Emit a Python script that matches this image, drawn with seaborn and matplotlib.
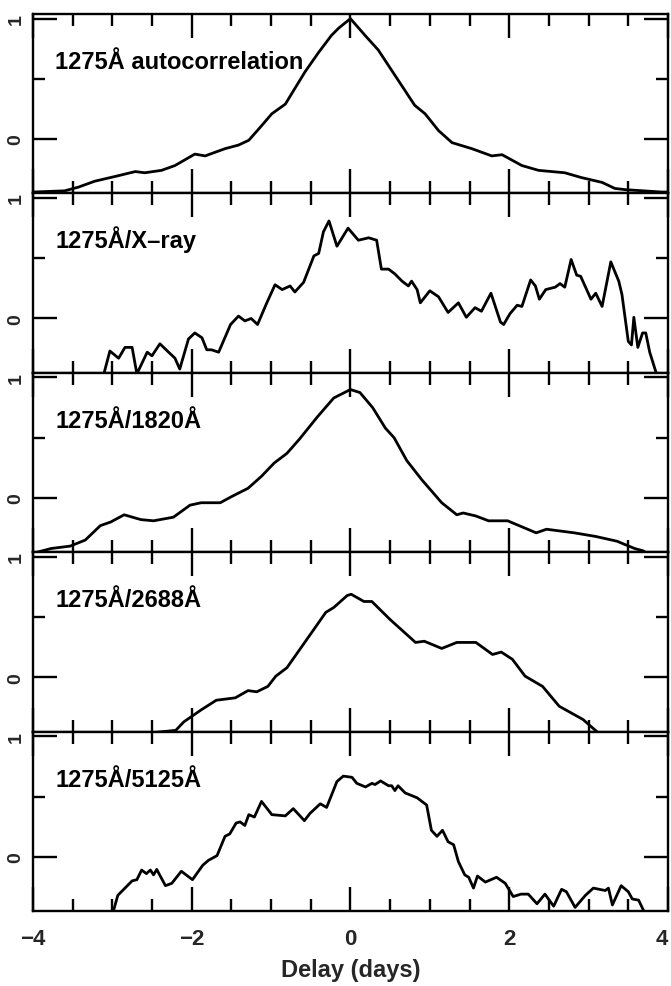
import matplotlib
matplotlib.use("Agg")
import matplotlib.pyplot as plt
import seaborn as sns
import pandas as pd
from matplotlib.ticker import MultipleLocator, FixedLocator

# ---------------- data ----------------
labels = ["1275Å autocorrelation", "1275Å/X\u2013ray", "1275Å/1820Å", "1275Å/2688Å", "1275Å/5125Å"]

auto_x = [-4.0, -3.6, -3.43, -3.22, -2.96, -2.71, -2.59, -2.38, -2.21, -1.96, -1.83, -1.58, -1.41, -1.28, -1.12,
          -0.99, -0.82, -0.70, -0.57, -0.40, -0.24, -0.15, 0.0, 0.185, 0.35, 0.56, 0.81, 0.94, 1.11, 1.28,
          1.53, 1.78, 1.91, 2.16, 2.37, 2.70, 2.91, 3.17, 3.33, 3.46, 3.92, 4.0]
auto_y = [-0.44, -0.43, -0.40, -0.35, -0.31, -0.27, -0.28, -0.26, -0.22, -0.125, -0.14, -0.08, -0.05, -0.01, 0.11,
          0.21, 0.29, 0.42, 0.56, 0.72, 0.86, 0.92, 1.0, 0.86, 0.74, 0.53, 0.28, 0.21, 0.07, -0.03,
          -0.08, -0.14, -0.13, -0.22, -0.26, -0.28, -0.32, -0.36, -0.41, -0.42, -0.44, -0.44]

xray_x = [-3.11, -3.03, -2.92, -2.84, -2.75, -2.69, -2.56, -2.50, -2.40, -2.29, -2.21, -2.15, -2.04, -1.96, -1.87,
          -1.81, -1.75, -1.66, -1.51, -1.41, -1.33, -1.25, -1.17, -1.06, -0.95, -0.86, -0.76, -0.70, -0.59, -0.46,
          -0.40, -0.34, -0.27, -0.17, -0.03, 0.10, 0.23, 0.33, 0.39, 0.48, 0.56, 0.65, 0.73, 0.77, 0.84,
          0.88, 1.00, 1.11, 1.23, 1.36, 1.46, 1.57, 1.65, 1.77, 1.89, 1.93, 2.01, 2.10, 2.16, 2.27,
          2.33, 2.38, 2.46, 2.58, 2.64, 2.70, 2.78, 2.85, 2.90, 3.03, 3.09, 3.17, 3.28, 3.38, 3.42,
          3.50, 3.54, 3.57, 3.62, 3.68, 3.72, 3.77, 3.86]
xray_y = [-0.47, -0.27, -0.33, -0.24, -0.24, -0.46, -0.28, -0.31, -0.21, -0.28, -0.33, -0.42, -0.17, -0.12, -0.16,
          -0.26, -0.26, -0.28, -0.05, 0.02, -0.02, 0.0, -0.05, 0.12, 0.28, 0.24, 0.27, 0.22, 0.30, 0.52,
          0.54, 0.72, 0.81, 0.60, 0.75, 0.65, 0.67, 0.65, 0.41, 0.41, 0.37, 0.31, 0.27, 0.31, 0.24,
          0.13, 0.23, 0.18, 0.05, 0.13, 0.01, 0.09, 0.06, 0.21, -0.03, -0.05, 0.04, 0.11, 0.10, 0.32,
          0.27, 0.16, 0.24, 0.26, 0.29, 0.26, 0.49, 0.36, 0.35, 0.16, 0.21, 0.10, 0.47, 0.31, 0.20,
          -0.19, -0.22, 0.01, -0.24, -0.12, -0.12, -0.28, -0.47]

uv1820_x = [-4.0, -3.77, -3.53, -3.34, -3.15, -3.02, -2.85, -2.64, -2.48, -2.23, -2.02, -1.88, -1.64, -1.50, -1.29,
            -1.12, -0.96, -0.80, -0.64, -0.42, -0.21, 0.0, 0.12, 0.28, 0.44, 0.55, 0.71, 0.90, 1.15, 1.34,
            1.42, 1.58, 1.74, 1.98, 2.34, 2.47, 2.82, 3.09, 3.36, 3.58, 3.69, 3.76]
uv1820_y = [-0.46, -0.42, -0.40, -0.35, -0.23, -0.20, -0.14, -0.18, -0.19, -0.16, -0.06, -0.04, -0.04, 0.01, 0.08,
            0.18, 0.29, 0.37, 0.49, 0.67, 0.83, 0.90, 0.875, 0.75, 0.58, 0.50, 0.31, 0.15, -0.04, -0.14,
            -0.125, -0.15, -0.19, -0.19, -0.29, -0.26, -0.29, -0.32, -0.36, -0.42, -0.44, -0.47]

uv2688_x = [-2.5, -2.2, -2.10, -1.88, -1.69, -1.45, -1.29, -1.18, -1.04, -0.94, -0.80, -0.64, -0.48, -0.31, -0.21,
            -0.04, 0.01, 0.17, 0.27, 0.50, 0.82, 0.93, 1.15, 1.34, 1.58, 1.79, 1.90, 2.04, 2.20, 2.42,
            2.63, 2.93, 3.12]
uv2688_y = [-0.46, -0.44, -0.37, -0.27, -0.19, -0.17, -0.11, -0.12, -0.075, 0.01, 0.08, 0.23, 0.38, 0.54, 0.58,
            0.68, 0.69, 0.63, 0.63, 0.48, 0.29, 0.30, 0.24, 0.29, 0.29, 0.19, 0.21, 0.15, 0.01, -0.075,
            -0.24, -0.35, -0.46]

opt5125_x = [-2.99, -2.93, -2.84, -2.75, -2.69, -2.63, -2.57, -2.52, -2.48, -2.44, -2.33, -2.25, -2.13, -1.99, -1.86,
             -1.79, -1.68, -1.58, -1.52, -1.44, -1.39, -1.33, -1.28, -1.21, -1.12, -0.99, -0.82, -0.72, -0.58, -0.51,
             -0.38, -0.30, -0.17, -0.09, 0.02, 0.08, 0.19, 0.27, 0.31, 0.38, 0.48, 0.52, 0.56, 0.60, 0.69,
             0.84, 0.96, 1.02, 1.09, 1.16, 1.23, 1.30, 1.36, 1.44, 1.49, 1.55, 1.60, 1.70, 1.84, 1.95,
             2.05, 2.15, 2.24, 2.35, 2.45, 2.56, 2.66, 2.72, 2.83, 2.96, 3.06, 3.21, 3.25, 3.30, 3.41,
             3.50, 3.55, 3.63, 3.71]
opt5125_y = [-0.46, -0.32, -0.26, -0.20, -0.19, -0.11, -0.14, -0.11, -0.15, -0.105, -0.24, -0.22, -0.12, -0.19, -0.07,
             -0.03, 0.01, 0.17, 0.19, 0.28, 0.29, 0.26, 0.35, 0.33, 0.46, 0.35, 0.34, 0.40, 0.30, 0.36,
             0.44, 0.41, 0.625, 0.67, 0.66, 0.61, 0.58, 0.61, 0.60, 0.63, 0.59, 0.59, 0.55, 0.59, 0.53,
             0.49, 0.43, 0.22, 0.17, 0.22, 0.125, 0.10, -0.04, -0.15, -0.17, -0.26, -0.16, -0.21, -0.17, -0.22,
             -0.33, -0.31, -0.31, -0.39, -0.31, -0.41, -0.27, -0.29, -0.42, -0.32, -0.26, -0.28, -0.26, -0.40, -0.24,
             -0.29, -0.35, -0.36, -0.47]

x_ticks = [-4, -2, 0, 2, 4]
y_ticks = [0, 1]
x_label = "Delay (days)"

series = [(auto_x, auto_y), (xray_x, xray_y), (uv1820_x, uv1820_y), (uv2688_x, uv2688_y), (opt5125_x, opt5125_y)]

# ---------------- style ----------------
sns.set_theme(style="white")
plt.rcParams["font.family"] = ["Liberation Sans", "DejaVu Sans"]
plt.rcParams["font.weight"] = "bold"
plt.rcParams["axes.linewidth"] = 1.7

fig, axes = plt.subplots(5, 1, sharex=True, figsize=(6.71, 9.87), dpi=100)
fig.subplots_adjust(left=0.049, right=0.9955, bottom=0.076, top=0.985, hspace=0)

for ax, (xs, ys), lab in zip(axes, series, labels):
    df = pd.DataFrame({"delay": xs, "ccf": ys})
    sns.lineplot(data=df, x="delay", y="ccf", ax=ax, color="black", linewidth=2.0,
                 estimator=None, sort=False)
    ax.set_xlim(-4, 4)
    ax.set_ylim(-0.45, 1.04)
    ax.set_xlabel("")
    ax.set_ylabel("")
    for sp in ax.spines.values():
        sp.set_color("black")
        sp.set_linewidth(1.7)
    ax.xaxis.set_major_locator(FixedLocator(x_ticks))
    ax.xaxis.set_minor_locator(MultipleLocator(0.5))
    ax.yaxis.set_major_locator(FixedLocator(y_ticks))
    ax.yaxis.set_minor_locator(FixedLocator([0.5]))
    ax.tick_params(which="both", direction="in", top=True, right=True, bottom=True, left=True,
                   color="black", width=1.7)
    ax.tick_params(axis="x", which="major", length=17, labelsize=16, pad=12)
    ax.tick_params(axis="x", which="minor", length=8.5)
    ax.tick_params(axis="y", which="major", length=17, labelsize=14, pad=6)
    ax.tick_params(axis="y", which="minor", length=8.5)
    ax.set_yticks(y_ticks)
    ax.set_yticklabels([str(t) for t in y_ticks], rotation=90, va="center", fontweight="bold")
    ax.text(-3.72, 0.59, lab, fontsize=17, fontweight="bold", ha="left", va="baseline", color="black")

axes[-1].set_xticks(x_ticks)
tl = axes[-1].set_xticklabels(["\u2212" + str(abs(t)) if t < 0 else str(t) for t in x_ticks], fontweight="bold")
tl[-1].set_horizontalalignment("right")
axes[-1].set_xlabel(x_label, fontsize=17, fontweight="bold", labelpad=7)

fig.savefig("out.png", dpi=100)
